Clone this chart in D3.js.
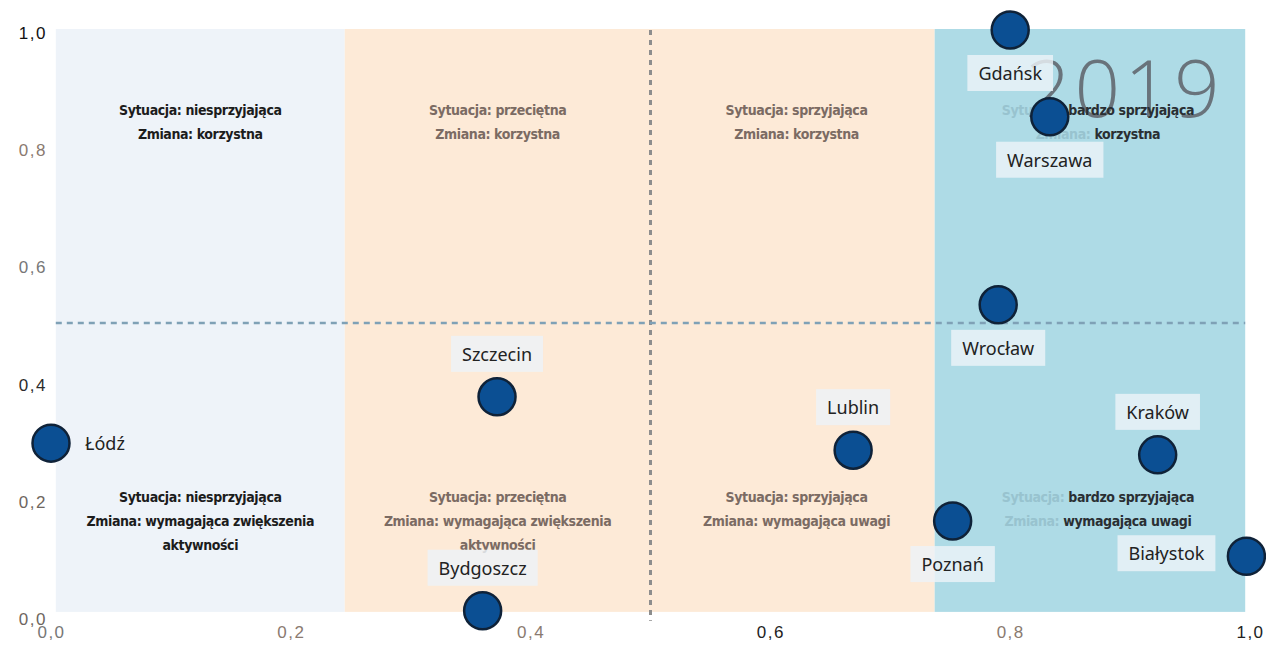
<!DOCTYPE html>
<html>
<head>
<meta charset="utf-8">
<script src="https://cdn.jsdelivr.net/npm/d3@7"></script>
<style>
  html, body { margin: 0; padding: 0; background: #fff; }
  svg { display: block; }
</style>
</head>
<body>
<svg id="chart" width="1266" height="649"></svg>
<script>
// ---- data ----
const cities = ["Łódź", "Szczecin", "Bydgoszcz", "Lublin", "Poznań", "Wrocław", "Kraków", "Białystok", "Gdańsk", "Warszawa"];
const xValues = [0.0, 0.372, 0.360, 0.669, 0.752, 0.790, 0.923, 0.997, 0.800, 0.833];
const yValues = [0.295, 0.374, 0.009, 0.283, 0.162, 0.531, 0.275, 0.102, 1.0, 0.852];
const labelSide = ["right", "above", "above", "above", "below", "below", "above", "left", "below", "below"];
const xTicks = [0, 0.2, 0.4, 0.6, 0.8, 1.0];
const yTicks = [0, 0.2, 0.4, 0.6, 0.8, 1.0];
const bandEdges = [0.004, 0.245, 0.737, 0.996];
const bandColors = ["#eef3f9", "#fdead7", "#aedbe6"];
const situations = ["niesprzyjająca", "przeciętna", "sprzyjająca", "bardzo sprzyjająca"];
const changeTop = ["korzystna"];
const changeBottom = [
  ["wymagająca zwiększenia", "aktywności"],
  ["wymagająca zwiększenia", "aktywności"],
  ["wymagająca uwagi"],
  ["wymagająca uwagi"]
];
const yearLabel = "2019";
const midX = 0.5, midY = 0.5;

// ---- scales ----
const svg = d3.select("#chart");
const x = d3.scaleLinear().domain([0, 1]).range([51, 1250]);
const y = d3.scaleLinear().domain([0, 1]).range([616, 30]);
const fmt = v => d3.format(".1f")(v).replace(".", ",");

// ---- background bands ----
const bands = d3.range(bandColors.length).map(i => ({ x0: bandEdges[i], x1: bandEdges[i + 1], c: bandColors[i] }));
svg.append("g").selectAll("rect").data(bands).join("rect")
  .attr("x", d => x(d.x0)).attr("width", d => x(d.x1) - x(d.x0))
  .attr("y", y(1) - 1).attr("height", y(0.007) - y(1) + 1)
  .attr("fill", d => d.c);

// ---- year ----
svg.append("text")
  .attr("x", x(0.978)).attr("y", y(0.852))
  .attr("text-anchor", "end")
  .attr("font-family", "'Open Sans', sans-serif")
  .attr("font-weight", 300)
  .attr("font-size", 80)
  .attr("letter-spacing", 4)
  .attr("fill", "#69737b")
  .text(yearLabel);

// ---- quadrant texts ----
const columnEdges = [bandEdges[0], bandEdges[1], midX, bandEdges[2], bandEdges[3]];
const qFont = "'DejaVu Sans Condensed', 'Liberation Sans Narrow', sans-serif";
const qColors = ["#1c1c1c", "#7b6b63", "#7b6b63", "#2a2f33"];
const prefixColors = ["#1c1c1c", "#7b6b63", "#7b6b63", "#98c3cf"];
const qg = svg.append("g").attr("font-family", qFont).attr("font-weight", "bold")
  .attr("font-size", 14).attr("text-anchor", "middle").attr("letter-spacing", -0.4);
situations.forEach((s, i) => {
  const lo = columnEdges[i], hi = columnEdges[i + 1];
  const px = x((lo + hi) / 2) + (i === 3 ? 8 : (i === 2 ? 4 : 0));
  const topLines = [["Sytuacja: ", s], ["Zmiana: ", changeTop[0]]];
  topLines.forEach((ln, k) => {
    const t = qg.append("text").attr("x", px).attr("y", 115 + k * 24);
    t.append("tspan").attr("fill", prefixColors[i]).text(ln[0]);
    t.append("tspan").attr("fill", qColors[i]).text(ln[1]);
  });
  const botLines = [["Sytuacja: ", s], ["Zmiana: ", changeBottom[i][0]]];
  if (changeBottom[i][1]) botLines.push(["", changeBottom[i][1]]);
  botLines.forEach((ln, k) => {
    const t = qg.append("text").attr("x", px).attr("y", 502 + k * 24);
    t.append("tspan").attr("fill", prefixColors[i]).text(ln[0]);
    t.append("tspan").attr("fill", qColors[i]).text(ln[1]);
  });
});

// ---- reference lines ----
svg.append("line")
  .attr("x1", x(midX)).attr("x2", x(midX))
  .attr("y1", y(1)).attr("y2", y(-0.008))
  .attr("stroke", "#8d8d8d").attr("stroke-width", 3).attr("stroke-dasharray", "5,5");
svg.append("line")
  .attr("x1", x(0.004)).attr("x2", x(0.996))
  .attr("y1", y(midY)).attr("y2", y(midY))
  .attr("stroke", "#7fa1b6").attr("stroke-width", 2.5).attr("stroke-dasharray", "6,5");

// ---- axes ----
const axisFont = "'Liberation Sans', Arial, sans-serif";
const ya = svg.append("g").attr("transform", `translate(${x(0)},0)`)
  .call(d3.axisLeft(y).tickValues(yTicks).tickFormat(fmt).tickSize(0).tickPadding(4));
ya.select(".domain").remove();
ya.selectAll("text").attr("font-family", axisFont).attr("font-size", 17).attr("letter-spacing", 1.5)
  .attr("fill", (d, i) => ["#6e6660", "#6e6660", "#2b2b2b", "#777", "#8a7a70", "#111"][i])
  .attr("dy", "0.5em");
const xa = svg.append("g").attr("transform", `translate(0,${y(0)})`)
  .call(d3.axisBottom(x).tickValues(xTicks).tickFormat(fmt).tickSize(0).tickPadding(10));
xa.select(".domain").remove();
xa.selectAll("text").attr("font-family", axisFont).attr("font-size", 17).attr("letter-spacing", 1.5)
  .attr("fill", (d, i) => ["#777", "#8a7a70", "#8a7a70", "#222", "#8a7a70", "#222"][i]);

// ---- points ----
const pts = cities.map((c, i) => ({ name: c, x: xValues[i], y: yValues[i], side: labelSide[i] }));
svg.append("g").selectAll("circle").data(pts).join("circle")
  .attr("cx", d => x(d.x)).attr("cy", d => y(d.y)).attr("r", 18.5)
  .attr("fill", "#0b4f93").attr("stroke", "#0f2238").attr("stroke-width", 2.5);

// ---- labels ----
const lg = svg.append("g");
pts.forEach(d => {
  const cx = x(d.x), cy = y(d.y);
  const g = lg.append("g");
  const rect = g.append("rect");
  const t = g.append("text")
    .attr("font-family", "'Noto Sans', 'Open Sans', sans-serif")
    .attr("font-size", 18)
    .attr("fill", "#222")
    .attr("dominant-baseline", "central")
    .text(d.name);
  const w = t.node().getComputedTextLength();
  let tx, ty = cy;
  if (d.side === "above") { tx = cx - w / 2; ty = cy - 43; }
  else if (d.side === "below") { tx = cx - w / 2; ty = cy + 43; }
  else if (d.side === "right") { tx = cx + 34; ty = cy; }
  else { tx = cx - 42 - w; ty = cy - 3; }
  t.attr("x", tx).attr("y", ty);
  rect.attr("x", tx - 11).attr("y", ty - 18).attr("width", w + 22).attr("height", 36)
    .attr("fill", "#edf3f8").attr("fill-opacity", d.side === "right" ? 0 : 0.82);
});
</script>
</body>
</html>
